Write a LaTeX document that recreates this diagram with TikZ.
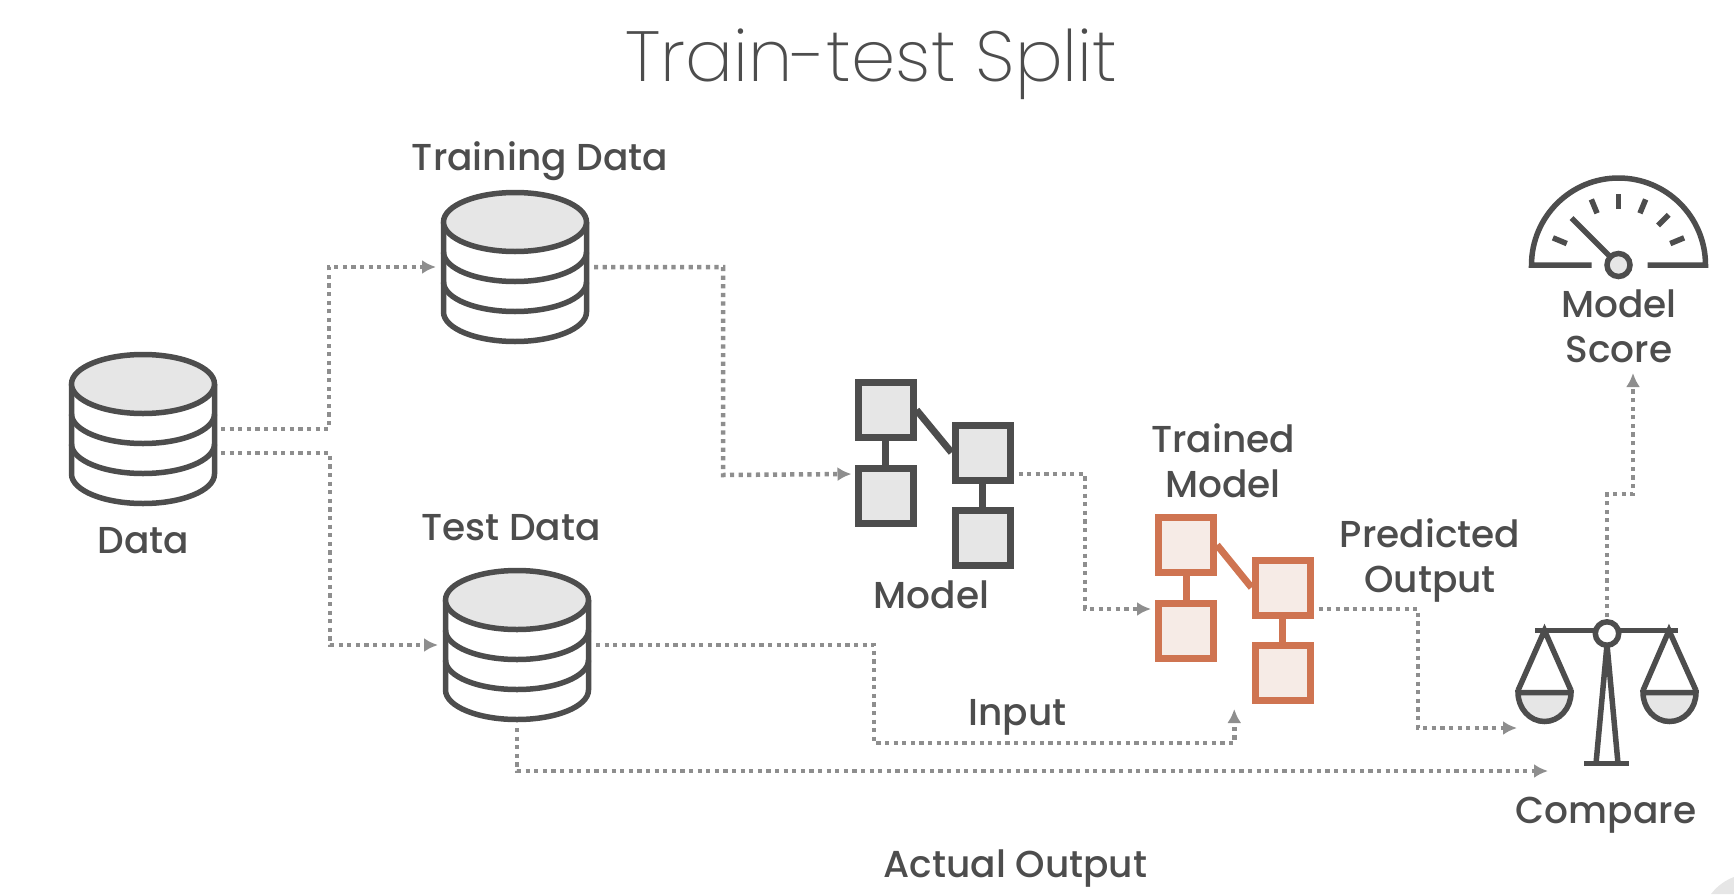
\documentclass[tikz,border=0pt]{standalone}
\usepackage{fontspec}
\setmainfont{Poppins Medium}
\newfontfamily\titlefont{Poppins ExtraLight}
\usetikzlibrary{arrows.meta,fit}
\definecolor{icondark}{HTML}{4D4D4D}
\definecolor{iconfill}{HTML}{E6E6E6}
\definecolor{flowgray}{HTML}{8E8E8E}
\definecolor{orangeline}{HTML}{CF7451}
\definecolor{orangefill}{HTML}{F6EBE6}
\tikzset{
  lbl/.style={anchor=base,inner sep=0pt,align=center,text=icondark,font=\fontsize{37.5}{45}\selectfont},
  flow/.style={draw=flowgray,line width=4.5pt,dash pattern=on 4.2pt off 4.4pt,-{Latex[length=14pt,width=14pt]}},
  flowbox/.style={minimum width=148pt,minimum height=156pt,inner sep=0pt,outer sep=0pt},
  darkbox/.style={draw=icondark,fill=iconfill,line width=7pt,minimum size=55pt,inner sep=0pt},
  orangebox/.style={draw=orangeline,fill=orangefill,line width=7pt,minimum size=55pt,inner sep=0pt},
  pics/dbicon/.style={code={
    \begin{scope}[draw=icondark,line width=5.5pt]
      \draw[fill=white] (-71.5,-45) -- (-71.5,45) arc[start angle=180,end angle=0,x radius=71.5,y radius=29.5] -- (71.5,-45);
      \draw (-71.5,-15) arc[start angle=180,end angle=0,x radius=71.5,y radius=29.5];
      \draw (-71.5,15) arc[start angle=180,end angle=0,x radius=71.5,y radius=29.5];
      \draw[fill=iconfill] (0,-45) ellipse[x radius=71.5,y radius=29.5];
    \end{scope}
  }},
  pics/gaugeicon/.style={code={
    \begin{scope}[draw=icondark,line width=5.5pt]
      \draw (-27,0) -- (-87,0) arc[start angle=180,end angle=360,radius=87] -- (29,0);
      \foreach \a in {-22.5,-45,-67.5,-90,-112.5,-157.5}
        \draw (\a:56) -- (\a:71);
      \draw (-47,-47) -- (-8,-8);
      \draw[fill=iconfill] (0,0) circle[radius=11.5];
    \end{scope}
  }},
  pics/scaleicon/.style={code={
    \begin{scope}[draw=icondark,line width=5.5pt]
      \draw (-72,0) -- (71,0);
      \draw (-11,133) -- (0,14) -- (11,133);
      \draw (-23,133) -- (22,133);
      \draw (-36,60) -- (-62.5,0) -- (-89,60);
      \draw (89,60) -- (62,0) -- (36,60);
      \draw[fill=iconfill] (-89,62) -- (-36,62) arc[start angle=0,end angle=180,x radius=26.5,y radius=29] -- cycle;
      \draw[fill=iconfill] (36,62) -- (89,62) arc[start angle=0,end angle=180,x radius=26.5,y radius=29] -- cycle;
      \draw[fill=white] (0,3) circle[radius=11.7];
    \end{scope}
  }},
}
\begin{document}
\begin{tikzpicture}[x=1pt,y=-1pt]
  \useasboundingbox (0,0) rectangle (1734,894);
  \fill[iconfill] (1711,894) .. controls (1718,885) and (1726,880) .. (1734,877) -- (1734,894) -- cycle;
  % labels
  \node[lbl,font=\titlefont\fontsize{71}{80}\selectfont,text=icondark] (title) at (871.5,81) {Train-test Split};
  \node[lbl] (ltrain) at (540,170) {Training Data};
  \node[lbl] (ldata) at (143.5,553) {Data};
  \node[lbl] (ltest) at (511,540) {Test Data};
  \node[lbl] (lmodel) at (931.5,608) {Model};
  \node[lbl] (ltrained) at (1223,497) {Trained\\Model};
  \node[lbl] (lpred) at (1430,592) {Predicted\\Output};
  \node[lbl] (lscore) at (1619,362) {Model\\Score};
  \node[lbl] (linput) at (1017.5,725) {Input};
  \node[lbl] (lcompare) at (1606,823) {Compare};
  \node[lbl] (lactual) at (1015.5,877) {Actual Output};
  % data stores
  \draw
    (143,429) node[flowbox] (data){}
    (515,267) node[flowbox] (train){}
    (517,645) node[flowbox] (test){};
  \pic at (data) {dbicon};
  \pic at (train) {dbicon};
  \pic at (test) {dbicon};
  % model
  \draw
    (885.5,410) node[darkbox] (m1){}
    (885.5,496) node[darkbox] (m2){}
    (982.5,452.5) node[darkbox] (m3){}
    (982.5,538) node[darkbox] (m4){};
  \begin{scope}[draw=icondark,line width=7pt]
    \draw (m1) to (m2);
    \draw (m3) to (m4);
    \draw (m1.east) to (m3.west);
  \end{scope}
  \node[fit=(m1)(m4),inner sep=0pt,outer sep=0pt] (model){};
  % trained model
  \draw
    (1186,545) node[orangebox] (t1){}
    (1186,630.5) node[orangebox] (t2){}
    (1282.5,587.5) node[orangebox] (t3){}
    (1282.5,673) node[orangebox] (t4){};
  \begin{scope}[draw=orangeline,line width=7pt]
    \draw (t1) to (t2);
    \draw (t3) to (t4);
    \draw (t1.east) to (t3.west);
  \end{scope}
  \node[fit=(t1)(t4),inner sep=0pt,outer sep=0pt] (trained){};
  % gauge and scales
  \node[minimum size=1pt,inner sep=0pt] (gauge) at (1618.5,265) {};
  \pic at (gauge) {gaugeicon};
  \node[minimum width=178pt,minimum height=146pt,inner sep=0pt,outer sep=0pt] (scales) at (1607,693) {};
  \pic at (1607,630.5) {scaleicon};
  % free ends and bends
  \coordinate (dlow) at (217,453);
  \coordinate (b1) at (329,267);
  \coordinate (b2) at (330,645);
  \coordinate (b3) at (723,475);
  \coordinate (b4) at (1085,609);
  \coordinate (b5) at (874,743);
  \coordinate (b6) at (1418,728);
  \coordinate (b7) at (1633,494);
  \coordinate (cmpa) at (1517,728);
  \coordinate (cmpb) at (1548,771);
  \coordinate (scoreend) at (1633,373);
  % connectors
  \begin{scope}[flow]
    \draw[flow,shorten <=4pt,shorten >=5pt] (data.east) -| (b1) -- (train.west);
    \draw[flow,shorten <=4pt,shorten >=5pt] (dlow) -| (b2) -- (test.west);
    \draw[flow,shorten <=5pt,shorten >=3pt] (train.east) -| (b3) -- (model.west);
    \draw[flow,shorten <=5pt,shorten >=4pt] (model.east) -| (b4) -- (trained.west);
    \draw[flow,shorten <=5pt,shorten >=5pt] (test.east) -| (b5) -| (trained.south);
    \draw[flow,shorten <=5pt] (trained.east) -| (b6) -- (cmpa);
    \draw[flow,shorten <=5pt] (test.south) |- (cmpb);
    \draw[flow,shorten <=3pt] (scales.north) |- (b7) -- (scoreend);
  \end{scope}
\end{tikzpicture}
\end{document}
